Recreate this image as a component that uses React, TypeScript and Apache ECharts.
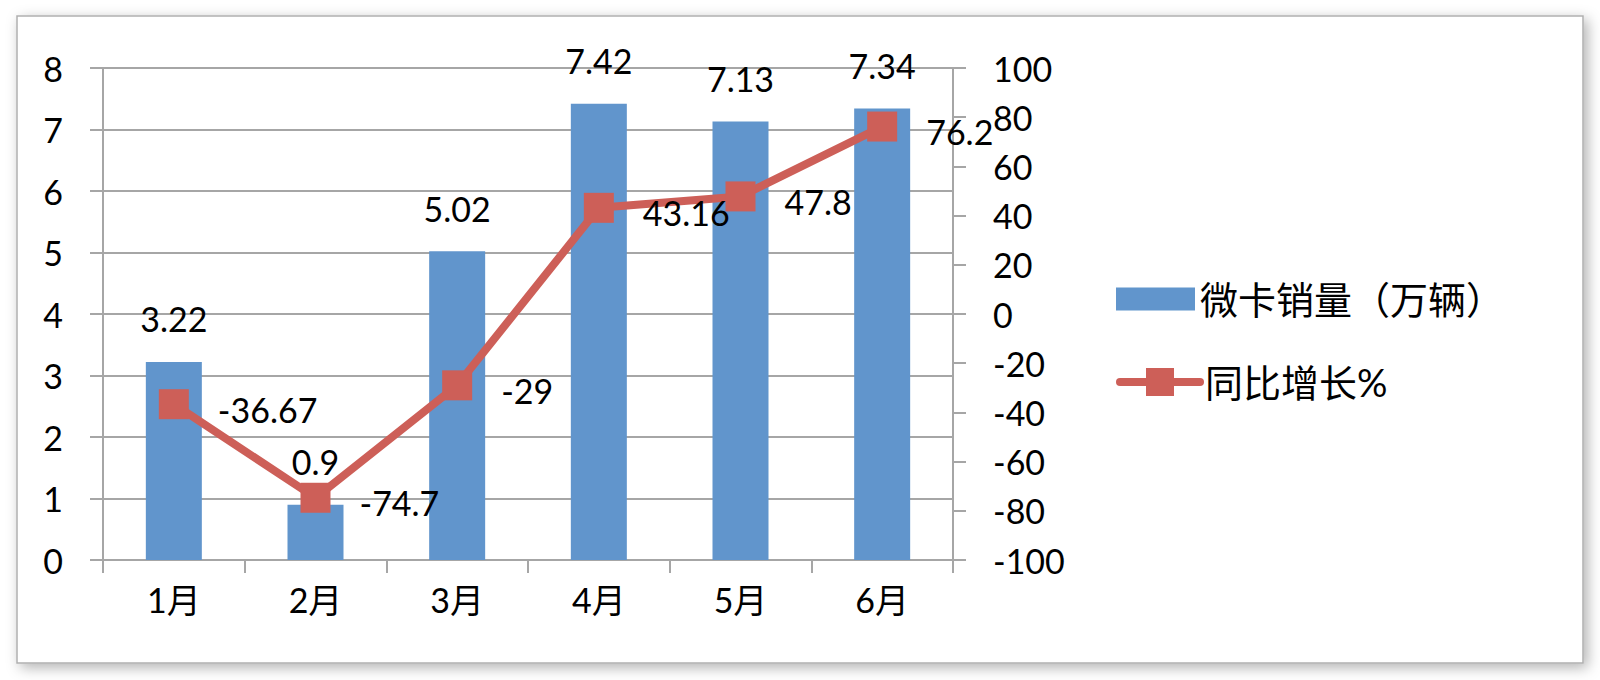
import { useEffect, useRef } from 'react'
import * as echarts from 'echarts'

const months = ['1月', '2月', '3月', '4月', '5月', '6月']
const salesValues = [3.22, 0.9, 5.02, 7.42, 7.13, 7.34]
const growthValues = [-36.67, -74.7, -29, 43.16, 47.8, 76.2]
const salesName = '微卡销量（万辆）'
const growthName = '同比增长%'

const FONT = "Lato, 'Noto Sans CJK SC', sans-serif"
const GRAY = '#A6A6A6'
const BLUE = '#6195CC'
const RED = '#CD5F58'

export default function App() {
  const chartRef = useRef<HTMLDivElement>(null)

  useEffect(() => {
    if (!chartRef.current) return
    const chart = echarts.init(chartRef.current, null, { renderer: 'svg' })

    chart.setOption({
      animation: false,
      backgroundColor: '#ffffff',
      textStyle: { fontFamily: FONT },
      graphic: {
        elements: [
          {
            type: 'rect',
            z: -100,
            silent: true,
            shape: { x: 17, y: 16, width: 1566, height: 647 },
            style: {
              fill: '#ffffff',
              stroke: '#B0B0B0',
              lineWidth: 1.5,
              shadowBlur: 14,
              shadowOffsetX: 4,
              shadowOffsetY: 4,
              shadowColor: 'rgba(0,0,0,0.3)',
            },
          },
        ],
      },
      legend: [
        {
          data: [{ name: salesName, icon: 'rect' }],
          orient: 'vertical',
          left: 1116,
          top: 280,
          padding: 0,
          itemWidth: 79,
          itemHeight: 23,
          selectedMode: false,
          textStyle: { fontSize: 38, color: '#000', fontFamily: FONT },
        },
        {
          data: [growthName],
          orient: 'vertical',
          left: 1116,
          top: 363,
          padding: 0,
          itemWidth: 80,
          itemHeight: 35,
          selectedMode: false,
          lineStyle: { width: 8, color: RED, cap: 'round' },
          textStyle: { fontSize: 38, color: '#000', fontFamily: FONT },
        },
      ],
      grid: { left: 103, right: 647, top: 68, bottom: 120, containLabel: false },
      xAxis: {
        type: 'category',
        data: months,
        axisLine: { lineStyle: { color: GRAY, width: 2 } },
        axisTick: { show: true, length: 13, lineStyle: { color: GRAY, width: 2 } },
        axisLabel: { color: '#000', fontSize: 34, margin: 22, fontFamily: FONT },
      },
      yAxis: [
        {
          type: 'value',
          min: 0,
          max: 8,
          interval: 1,
          position: 'left',
          axisLine: { show: true, lineStyle: { color: GRAY, width: 2 } },
          axisTick: { show: true, length: 13, lineStyle: { color: GRAY, width: 2 } },
          splitLine: { lineStyle: { color: GRAY, width: 2 } },
          axisLabel: { color: '#000', fontSize: 34, margin: 40, fontFamily: FONT },
        },
        {
          type: 'value',
          min: -100,
          max: 100,
          interval: 20,
          position: 'right',
          axisLine: { show: true, lineStyle: { color: GRAY, width: 2 } },
          axisTick: { show: true, length: 13, lineStyle: { color: GRAY, width: 2 } },
          splitLine: { show: false },
          axisLabel: { color: '#000', fontSize: 34, margin: 40, fontFamily: FONT },
        },
      ],
      series: [
        {
          name: salesName,
          type: 'bar',
          data: salesValues,
          barWidth: 56,
          itemStyle: { color: BLUE },
          label: {
            show: true,
            position: 'top',
            distance: 26,
            color: '#000',
            fontSize: 34,
            fontFamily: FONT,
          },
        },
        {
          name: growthName,
          type: 'line',
          yAxisIndex: 1,
          data: growthValues,
          symbol: 'rect',
          symbolSize: 30,
          z: 5,
          itemStyle: { color: RED },
          lineStyle: { color: RED, width: 8, cap: 'round', join: 'round' },
          label: {
            show: true,
            position: 'right',
            distance: 29,
            offset: [0, 5],
            color: '#000',
            fontSize: 34,
            fontFamily: FONT,
          },
        },
      ],
    })

    return () => {
      chart.dispose()
    }
  }, [])

  return (
    <div
      ref={chartRef}
      style={{ position: 'fixed', left: 0, top: 0, width: 1600, height: 680 }}
    />
  )
}
